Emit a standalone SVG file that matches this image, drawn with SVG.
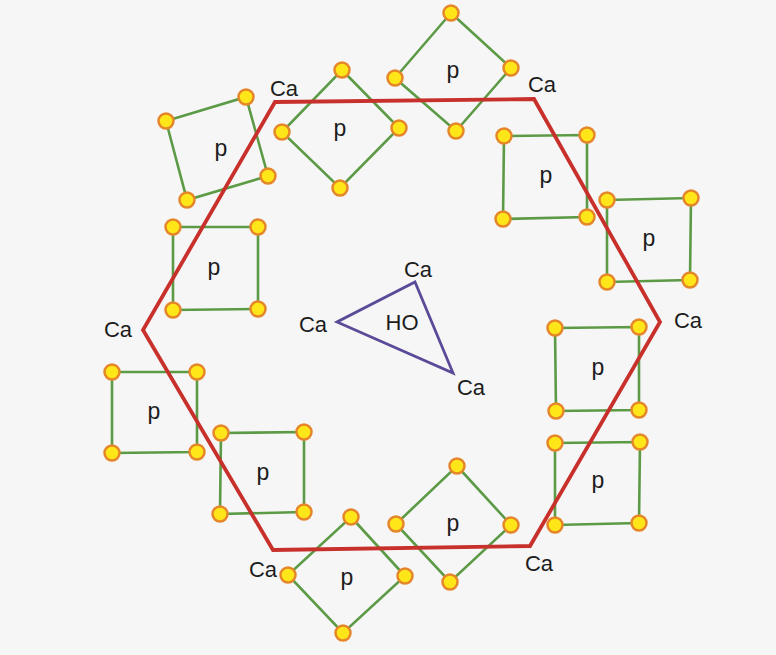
<svg xmlns="http://www.w3.org/2000/svg" width="776" height="655" viewBox="0 0 776 655">
<style>
.sq{fill:none;stroke:#5c9a45;stroke-width:2.6;stroke-linejoin:miter}
.at{fill:#ffe619;stroke:#e5862a;stroke-width:2.5}
.t{font-family:"Liberation Sans",Arial,sans-serif;font-size:22px;fill:#1c1c1c;text-anchor:middle}
.p{font-size:23px}
.hex{fill:none;stroke:#c8302b;stroke-width:3.8;stroke-linejoin:miter}
.tri{fill:none;stroke:#5b4a98;stroke-width:2.8;stroke-linejoin:miter}
</style>
<rect width="776" height="655" fill="#f6f6f7"/>
<g id="connectors"></g>
<g id="sq1"><polygon class="sq" points="166,121 246,97 268,176 187,200"/><text class="t p" x="221" y="156">p</text><circle class="at" cx="166" cy="121" r="7.5"/><circle class="at" cx="246" cy="97" r="7.5"/><circle class="at" cx="268" cy="176" r="7.5"/><circle class="at" cx="187" cy="200" r="7.5"/></g>
<g id="sq2"><polygon class="sq" points="342,70 399,128 340,188 282,132"/><text class="t p" x="340" y="136">p</text><circle class="at" cx="342" cy="70" r="7.5"/><circle class="at" cx="399" cy="128" r="7.5"/><circle class="at" cx="340" cy="188" r="7.5"/><circle class="at" cx="282" cy="132" r="7.5"/></g>
<g id="sq3"><polygon class="sq" points="451,13 511,68 456,131 395,78"/><text class="t p" x="453" y="78">p</text><circle class="at" cx="451" cy="13" r="7.5"/><circle class="at" cx="511" cy="68" r="7.5"/><circle class="at" cx="456" cy="131" r="7.5"/><circle class="at" cx="395" cy="78" r="7.5"/></g>
<g id="sq4"><polygon class="sq" points="504,136 587,135 587,217 503,219"/><text class="t p" x="546" y="183">p</text><circle class="at" cx="504" cy="136" r="7.5"/><circle class="at" cx="587" cy="135" r="7.5"/><circle class="at" cx="587" cy="217" r="7.5"/><circle class="at" cx="503" cy="219" r="7.5"/></g>
<g id="sq5"><polygon class="sq" points="607,200 691,198 690,280 607,282"/><text class="t p" x="649" y="246">p</text><circle class="at" cx="607" cy="200" r="7.5"/><circle class="at" cx="691" cy="198" r="7.5"/><circle class="at" cx="690" cy="280" r="7.5"/><circle class="at" cx="607" cy="282" r="7.5"/></g>
<g id="sq6"><polygon class="sq" points="173,227 258,227 258,309 173,310"/><text class="t p" x="214" y="275">p</text><circle class="at" cx="173" cy="227" r="7.5"/><circle class="at" cx="258" cy="227" r="7.5"/><circle class="at" cx="258" cy="309" r="7.5"/><circle class="at" cx="173" cy="310" r="7.5"/></g>
<g id="sq7"><polygon class="sq" points="112,372 197,372 197,452 112,453"/><text class="t p" x="154" y="419">p</text><circle class="at" cx="112" cy="372" r="7.5"/><circle class="at" cx="197" cy="372" r="7.5"/><circle class="at" cx="197" cy="452" r="7.5"/><circle class="at" cx="112" cy="453" r="7.5"/></g>
<g id="sq8"><polygon class="sq" points="221,433 304,432 304,512 220,514"/><text class="t p" x="263" y="480">p</text><circle class="at" cx="221" cy="433" r="7.5"/><circle class="at" cx="304" cy="432" r="7.5"/><circle class="at" cx="304" cy="512" r="7.5"/><circle class="at" cx="220" cy="514" r="7.5"/></g>
<g id="sq9"><polygon class="sq" points="351,517 405,576 343,633 288,575"/><text class="t p" x="347" y="585">p</text><circle class="at" cx="351" cy="517" r="7.5"/><circle class="at" cx="405" cy="576" r="7.5"/><circle class="at" cx="343" cy="633" r="7.5"/><circle class="at" cx="288" cy="575" r="7.5"/></g>
<g id="sq10"><polygon class="sq" points="457,466 511,525 450,582 396,524"/><text class="t p" x="453" y="531">p</text><circle class="at" cx="457" cy="466" r="7.5"/><circle class="at" cx="511" cy="525" r="7.5"/><circle class="at" cx="450" cy="582" r="7.5"/><circle class="at" cx="396" cy="524" r="7.5"/></g>
<g id="sq11"><polygon class="sq" points="555,328 639,327 639,410 556,411"/><text class="t p" x="598" y="375">p</text><circle class="at" cx="555" cy="328" r="7.5"/><circle class="at" cx="639" cy="327" r="7.5"/><circle class="at" cx="639" cy="410" r="7.5"/><circle class="at" cx="556" cy="411" r="7.5"/></g>
<g id="sq12"><polygon class="sq" points="555,443 640,442 639,523 555,525"/><text class="t p" x="598" y="488">p</text><circle class="at" cx="555" cy="443" r="7.5"/><circle class="at" cx="640" cy="442" r="7.5"/><circle class="at" cx="639" cy="523" r="7.5"/><circle class="at" cx="555" cy="525" r="7.5"/></g>
<g id="hexagon"><polygon class="hex" points="275,102 534,99 660,322 530,546 273,550 143,330"/>
<text class="t" x="284" y="96">Ca</text><text class="t" x="542" y="92">Ca</text><text class="t" x="688" y="328">Ca</text><text class="t" x="539" y="571">Ca</text><text class="t" x="263" y="577">Ca</text><text class="t" x="118" y="337">Ca</text></g>
<g id="triangle"><polygon class="tri" points="415,282 453,373 337,322"/>
<text class="t" x="402" y="330">HO</text><text class="t" x="418" y="277">Ca</text><text class="t" x="313" y="332">Ca</text><text class="t" x="471" y="395">Ca</text></g>
</svg>
